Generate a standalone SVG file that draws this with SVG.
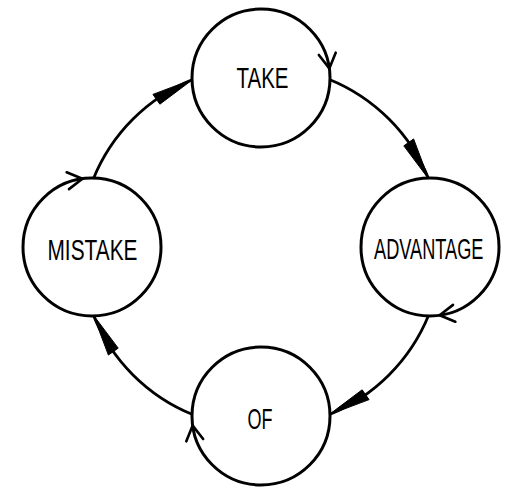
<svg xmlns="http://www.w3.org/2000/svg" width="522" height="497" viewBox="0 0 522 497">
<style>
.node{fill:#fff;stroke:#000;stroke-width:3}
.lbl{font-family:"Liberation Sans",Arial,sans-serif;font-size:29px;fill:#000}
.arc{fill:none;stroke:#000;stroke-width:2.8}
.head{fill:#000;stroke:#000;stroke-width:1;stroke-linejoin:round}
.chev{fill:none;stroke:#000;stroke-width:2.6;stroke-linecap:round;stroke-linejoin:round}
</style>
<rect width="522" height="497" fill="#fff"/>
<defs>
<g id="seg">
<path class="arc" d="M328.8,79.18 A181,181 0 0 1 428.82,179.2"/>
<polygon class="head" points="428.82,179.2 413.61,138.93 403.81,145.87"/>
</g>
<polyline id="chv" class="chev" points="318.86,55 329.33,68.4 335.7,52.64"/>
</defs>
<g id="connectors">
<use href="#seg"/>
<use href="#seg" transform="rotate(90 261 247)"/>
<use href="#seg" transform="rotate(180 261 247)"/>
<use href="#seg" transform="rotate(270 261 247)"/>
</g>
<g id="node-take">
<circle class="node" cx="261" cy="78" r="69"/>
<text class="lbl" x="236.5" y="88" textLength="52" lengthAdjust="spacingAndGlyphs">TAKE</text>
</g>
<g id="node-advantage">
<circle class="node" cx="430" cy="247" r="69"/>
<text class="lbl" style="font-size:18.2px" transform="translate(374 259) scale(1 1.593)" x="0" y="0">ADVANTAGE</text>
</g>
<g id="node-of">
<circle class="node" cx="261" cy="416" r="69"/>
<text class="lbl" x="247.5" y="429" textLength="25" lengthAdjust="spacingAndGlyphs">OF</text>
</g>
<g id="node-mistake">
<circle class="node" cx="92" cy="247" r="69"/>
<text class="lbl" x="47.5" y="260" textLength="90" lengthAdjust="spacingAndGlyphs">MISTAKE</text>
</g>
<g id="flow-marks">
<use href="#chv"/>
<use href="#chv" transform="rotate(90 261 247)"/>
<use href="#chv" transform="rotate(180 261 247)"/>
<use href="#chv" transform="rotate(270 261 247)"/>
</g>
</svg>
